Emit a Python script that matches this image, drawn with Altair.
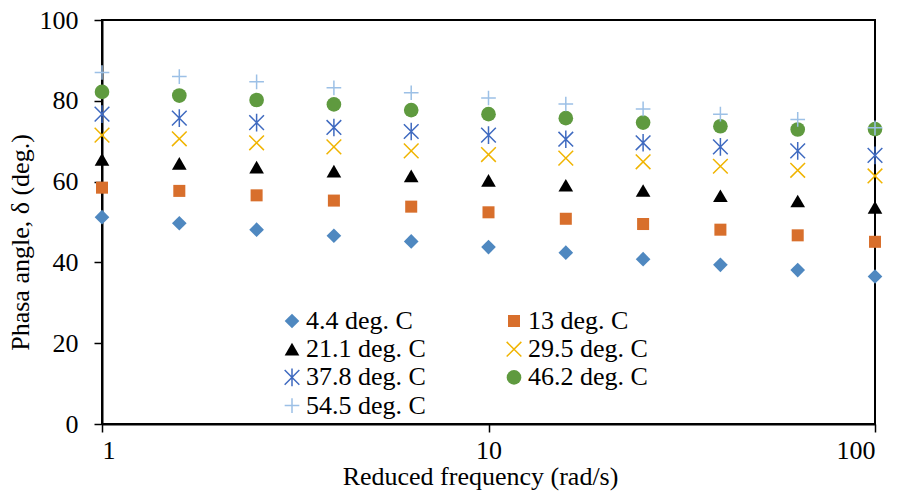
import altair as alt
import pandas as pd

# Reduced frequency (rad/s), log-spaced sweep
freq = [1, 1.585, 2.512, 3.981, 6.31, 10, 15.85, 25.12, 39.81, 63.1, 100]

# Phase angle (deg.) at each test temperature
t4_4 = [51.2, 49.7, 48.1, 46.6, 45.2, 43.8, 42.4, 40.8, 39.4, 38.1, 36.5]
t13 = [58.5, 57.7, 56.6, 55.3, 53.8, 52.4, 50.8, 49.5, 48.1, 46.7, 45.1]
t21_1 = [65.5, 64.5, 63.6, 62.6, 61.4, 60.3, 59.1, 57.8, 56.5, 55.2, 53.6]
t29_5 = [71.5, 70.6, 69.6, 68.6, 67.6, 66.7, 65.8, 64.9, 63.8, 62.8, 61.4]
t37_8 = [76.7, 75.7, 74.6, 73.4, 72.4, 71.5, 70.5, 69.6, 68.6, 67.6, 66.5]
t46_2 = [82.2, 81.3, 80.2, 79.1, 77.7, 76.7, 75.7, 74.6, 73.7, 72.9, 73.0]
t54_5 = [87.0, 86.0, 84.7, 83.2, 82.0, 80.7, 79.2, 78.0, 76.7, 75.4, 73.3]

series_names = ["4.4 deg. C", "13 deg. C", "21.1 deg. C", "29.5 deg. C",
                "37.8 deg. C", "46.2 deg. C", "54.5 deg. C"]
series_values = [t4_4, t13, t21_1, t29_5, t37_8, t46_2, t54_5]

colors = ["#4F88C0", "#D86F2C", "#000000", "#F0B400", "#3F6AC0", "#5F9A3F", "#9CC0E6"]
filled = [True, True, True, False, False, True, False]
shapes = [
    "diamond",
    "M-0.82,-0.82L0.82,-0.82L0.82,0.82L-0.82,0.82Z",
    "triangle-up",
    "M-1,-1L1,1M-1,1L1,-1",
    "M-1,-1L1,1M-1,1L1,-1M0,-1.2L0,1.2",
    "circle",
    "M-1,0L1,0M0,-1L0,1",
]
fill_range = [c if f else "transparent" for c, f in zip(colors, filled)]
stroke_range = ["transparent" if f else c for c, f in zip(colors, filled)]

rows = []
for i, (name, vals) in enumerate(zip(series_names, series_values)):
    for f, v in zip(freq, vals):
        rows.append({"freq": f, "phase": v, "series": name, "idx": i})
df = pd.DataFrame(rows)

FONT = "Liberation Serif"
FS = 26

legend = alt.Legend(
    title=None, orient="none", legendX=177, legendY=288, columns=2,
    direction="horizontal",
    columnPadding=75, rowPadding=2.2, labelOffset=1, padding=0,
    labelFont=FONT, labelFontSize=FS, labelColor="black",
    symbolSize=215, symbolStrokeWidth=1.5,
)

chart = alt.Chart(df).mark_point(size=215, strokeWidth=1.5, opacity=1).encode(
    x=alt.X("freq:Q", title="Reduced frequency (rad/s)",
            scale=alt.Scale(type="log", domain=[1, 100], nice=False),
            axis=alt.Axis(values=[1, 10, 100], format="~g", grid=False,
                          tickSize=8, labelPadding=5,
                          titleX=378, titleY=60, titleBaseline="alphabetic")),
    y=alt.Y("phase:Q", title="Phasa angle, δ (deg.)",
            scale=alt.Scale(domain=[0, 100], nice=False),
            axis=alt.Axis(values=[0, 20, 40, 60, 80, 100], grid=False,
                          tickSize=8, labelPadding=16,
                          titleX=-74, titleY=222, titleBaseline="alphabetic")),
    shape=alt.Shape("series:N", sort=series_names,
                    scale=alt.Scale(domain=series_names, range=shapes), legend=legend),
    fill=alt.Fill("series:N", sort=series_names,
                  scale=alt.Scale(domain=series_names, range=fill_range), legend=legend),
    stroke=alt.Stroke("series:N", sort=series_names,
                      scale=alt.Scale(domain=series_names, range=stroke_range), legend=legend),
    order=alt.Order("idx:Q"),
).properties(
    width=773, height=404,
    padding={"left": 102, "top": 20, "right": 24, "bottom": 69},
    autosize="none",
    background="white",
).configure_view(
    stroke="black", strokeWidth=2
).configure_axis(
    labelFont=FONT, labelFontSize=FS, labelColor="black",
    titleFont=FONT, titleFontSize=FS, titleColor="black", titleFontWeight="normal",
    domainColor="black", domainWidth=2, tickColor="black", tickWidth=1.5,
)

chart.save("out.html", embed_options={"renderer": "svg", "actions": False})
